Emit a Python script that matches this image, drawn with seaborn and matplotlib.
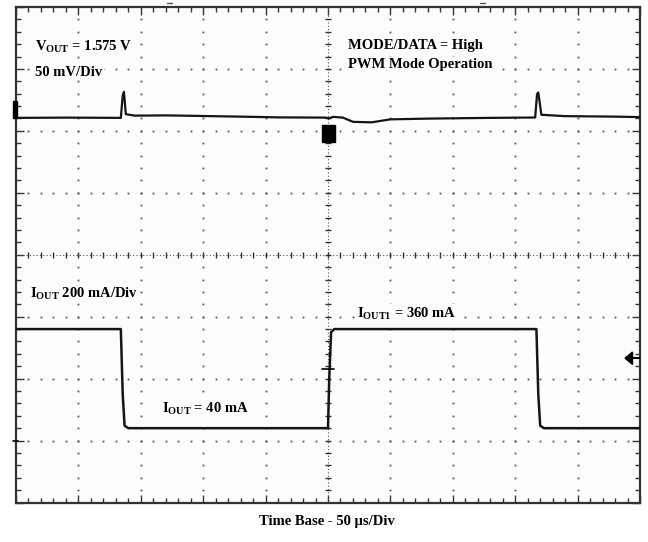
import numpy as np
import pandas as pd
import matplotlib
matplotlib.use("Agg")
import matplotlib.pyplot as plt
from matplotlib.patches import Rectangle, Polygon
import seaborn as sns

# ---- scope settings ----
time_per_div_us = 50      # horizontal: 50 us/div, 10 divisions
n_xdiv = 10
n_ydiv = 8
vout_mv_per_div = 50      # channel 1: 50 mV/div
iout_ma_per_div = 200     # channel 2: 200 mA/div
vout_offset_div = 6.21    # channel 1 trace position (div)
iout_zero_div = 1.0       # channel 2 ground position (div)

# ---- channel 1: output voltage deviation (mV) ----
vout_t_us = [0, 40, 84, 85.5, 86.5, 88, 95, 120, 150, 180, 210, 248, 251, 254,
             262, 270, 285, 300, 330, 380, 416, 417.5, 418.5, 421, 440, 480, 500]
vout_dev_mv = [0, 0.2, 0, 18, 21, 3, 1.8, 2.0, 1.5, 1.0, 0.4, 0.2, -0.4, 0.8,
               0.2, -3.2, -3.6, -1.2, -0.6, 0.0, 0.3, 19, 20.5, 2.5, 1.4, 1.0, 0.6]

# ---- channel 2: load current (mA) ----
iout_t_us = [0, 84, 85.5, 87, 90, 250, 251, 252.5, 255, 417, 418.5, 420, 423, 500]
iout_ma = [360, 360, 150, 48, 40, 40, 200, 350, 360, 360, 150, 48, 40, 40]

df_v = pd.DataFrame({"t": vout_t_us,
                     "div": np.array(vout_dev_mv) / vout_mv_per_div + vout_offset_div})
df_i = pd.DataFrame({"t": iout_t_us,
                     "div": np.array(iout_ma) / iout_ma_per_div + iout_zero_div})

sns.set_theme(style="white")
plt.rcParams["font.family"] = ["Liberation Serif", "DejaVu Serif"]
plt.rcParams["mathtext.fontset"] = "custom"
plt.rcParams["mathtext.rm"] = "Liberation Serif:bold"
plt.rcParams["mathtext.bf"] = "Liberation Serif:bold"

W, H = 648, 542
fig = plt.figure(figsize=(W / 100, H / 100), dpi=100)
fig.patch.set_facecolor("white")
ax = fig.add_axes([16 / W, 1 - 502.5 / H, 624 / W, 495.5 / H])
ax.set_facecolor("#fcfdfd")

xmax = time_per_div_us * n_xdiv
ax.set_xlim(0, xmax)
ax.set_ylim(0, n_ydiv)

# graticule: dotted major division lines
gcol = "#555555"
fine_y = np.arange(0.2, n_ydiv, 0.2)
fine_x = np.arange(time_per_div_us / 5, xmax, time_per_div_us / 5)
for k in range(1, n_xdiv):
    if k == n_xdiv // 2:
        continue
    ax.plot([k * time_per_div_us] * len(fine_y), fine_y, ls="none", marker="s",
            ms=1.3, mew=0, color=gcol, zorder=1)
for j in range(1, n_ydiv):
    if j == n_ydiv // 2:
        continue
    ax.plot(fine_x, [j] * len(fine_x), ls="none", marker="s", ms=1.3, mew=0,
            color=gcol, zorder=1)

# centre axes with finer ticks
xc, yc = xmax / 2, n_ydiv / 2
ax.axvline(xc, color=gcol, lw=0.8, ls=(0, (1, 2)), zorder=1)
ax.axhline(yc, color=gcol, lw=0.8, ls=(0, (1, 2)), zorder=1)
ax.plot([xc] * len(fine_y), fine_y, ls="none", marker="_", ms=4, mew=1.0,
        color="#333333", zorder=1)
ax.plot(fine_x, [yc] * len(fine_x), ls="none", marker="|", ms=4, mew=1.0,
        color="#333333", zorder=1)

# border ticks
ax.set_xticks(np.arange(0, xmax + 1, time_per_div_us))
ax.set_xticks(fine_x, minor=True)
ax.set_yticks(np.arange(0, n_ydiv + 1, 1))
ax.set_yticks(fine_y, minor=True)
ax.tick_params(which="both", direction="in", top=True, right=True, bottom=True,
               left=True, labelbottom=False, labelleft=False, color="#333333")
ax.tick_params(which="major", length=6, width=1.0)
ax.tick_params(which="minor", length=3.5, width=1.0)
for s in ax.spines.values():
    s.set_color("#333333")
    s.set_linewidth(1.6)
    s.set_visible(True)

# traces
sns.lineplot(data=df_v, x="t", y="div", ax=ax, estimator=None, sort=False,
             color="#151515", lw=1.6, zorder=5)
sns.lineplot(data=df_i, x="t", y="div", ax=ax, estimator=None, sort=False,
             color="#151515", lw=1.8, zorder=5)
ax.set_xlabel("")
ax.set_ylabel("")

# channel / trigger markers
ax.add_patch(Rectangle((-2.5, vout_offset_div), 3.5, 0.28, color="black",
                       clip_on=False, zorder=6))
ax.plot([-2.5, 1.5], [iout_zero_div, iout_zero_div], color="black", lw=1.2,
        clip_on=False, zorder=6)
ax.add_patch(Rectangle((xc - 5, 5.82), 10.5, 0.28, color="black", zorder=6))
ax.plot([xc - 5, xc + 5], [2.155, 2.155], color="black", lw=1.2, zorder=6)
ax.add_patch(Polygon([[488, 2.33], [494, 2.43], [494, 2.23]], closed=True,
                     color="black", zorder=6))
ax.plot([494, xmax], [2.33, 2.33], color="black", lw=1.5, zorder=6)
for xm in (123, 374):
    ax.plot([xm - 2, xm + 2], [8.06, 8.06], color="#555555", lw=1.0,
            clip_on=False)

# annotations
tkw = dict(fontsize=10.5, fontweight="bold", color="black", va="baseline",
           ha="left", family=["Liberation Serif", "DejaVu Serif"])
box = dict(facecolor="#fcfdfd", edgecolor="none", pad=1.0)


def label(x_px, y_px, s, **kw):
    opts = dict(tkw)
    opts.update(kw)
    fig.text(x_px / W, 1 - y_px / H, s, **opts)


label(35, 50, r"V$_{\mathregular{OUT}}$ = 1.575 V", bbox=box)
label(35, 76, "50 mV/Div", bbox=box)
label(348, 49, "MODE/DATA = High", bbox=box)
label(348, 68, "PWM Mode Operation", bbox=box)
label(30, 297, r"I$_{\mathregular{OUT}}$ 200 mA/Div", bbox=box)
label(162, 412, r"I$_{\mathregular{OUT}}$ = 40 mA", bbox=box)
label(357, 317, r"I$_{\mathregular{OUT1}}$ = 360 mA", bbox=box)
label(327, 525, "Time Base - 50 µs/Div", ha="center")

fig.savefig("out.png", dpi=100, facecolor="white")
